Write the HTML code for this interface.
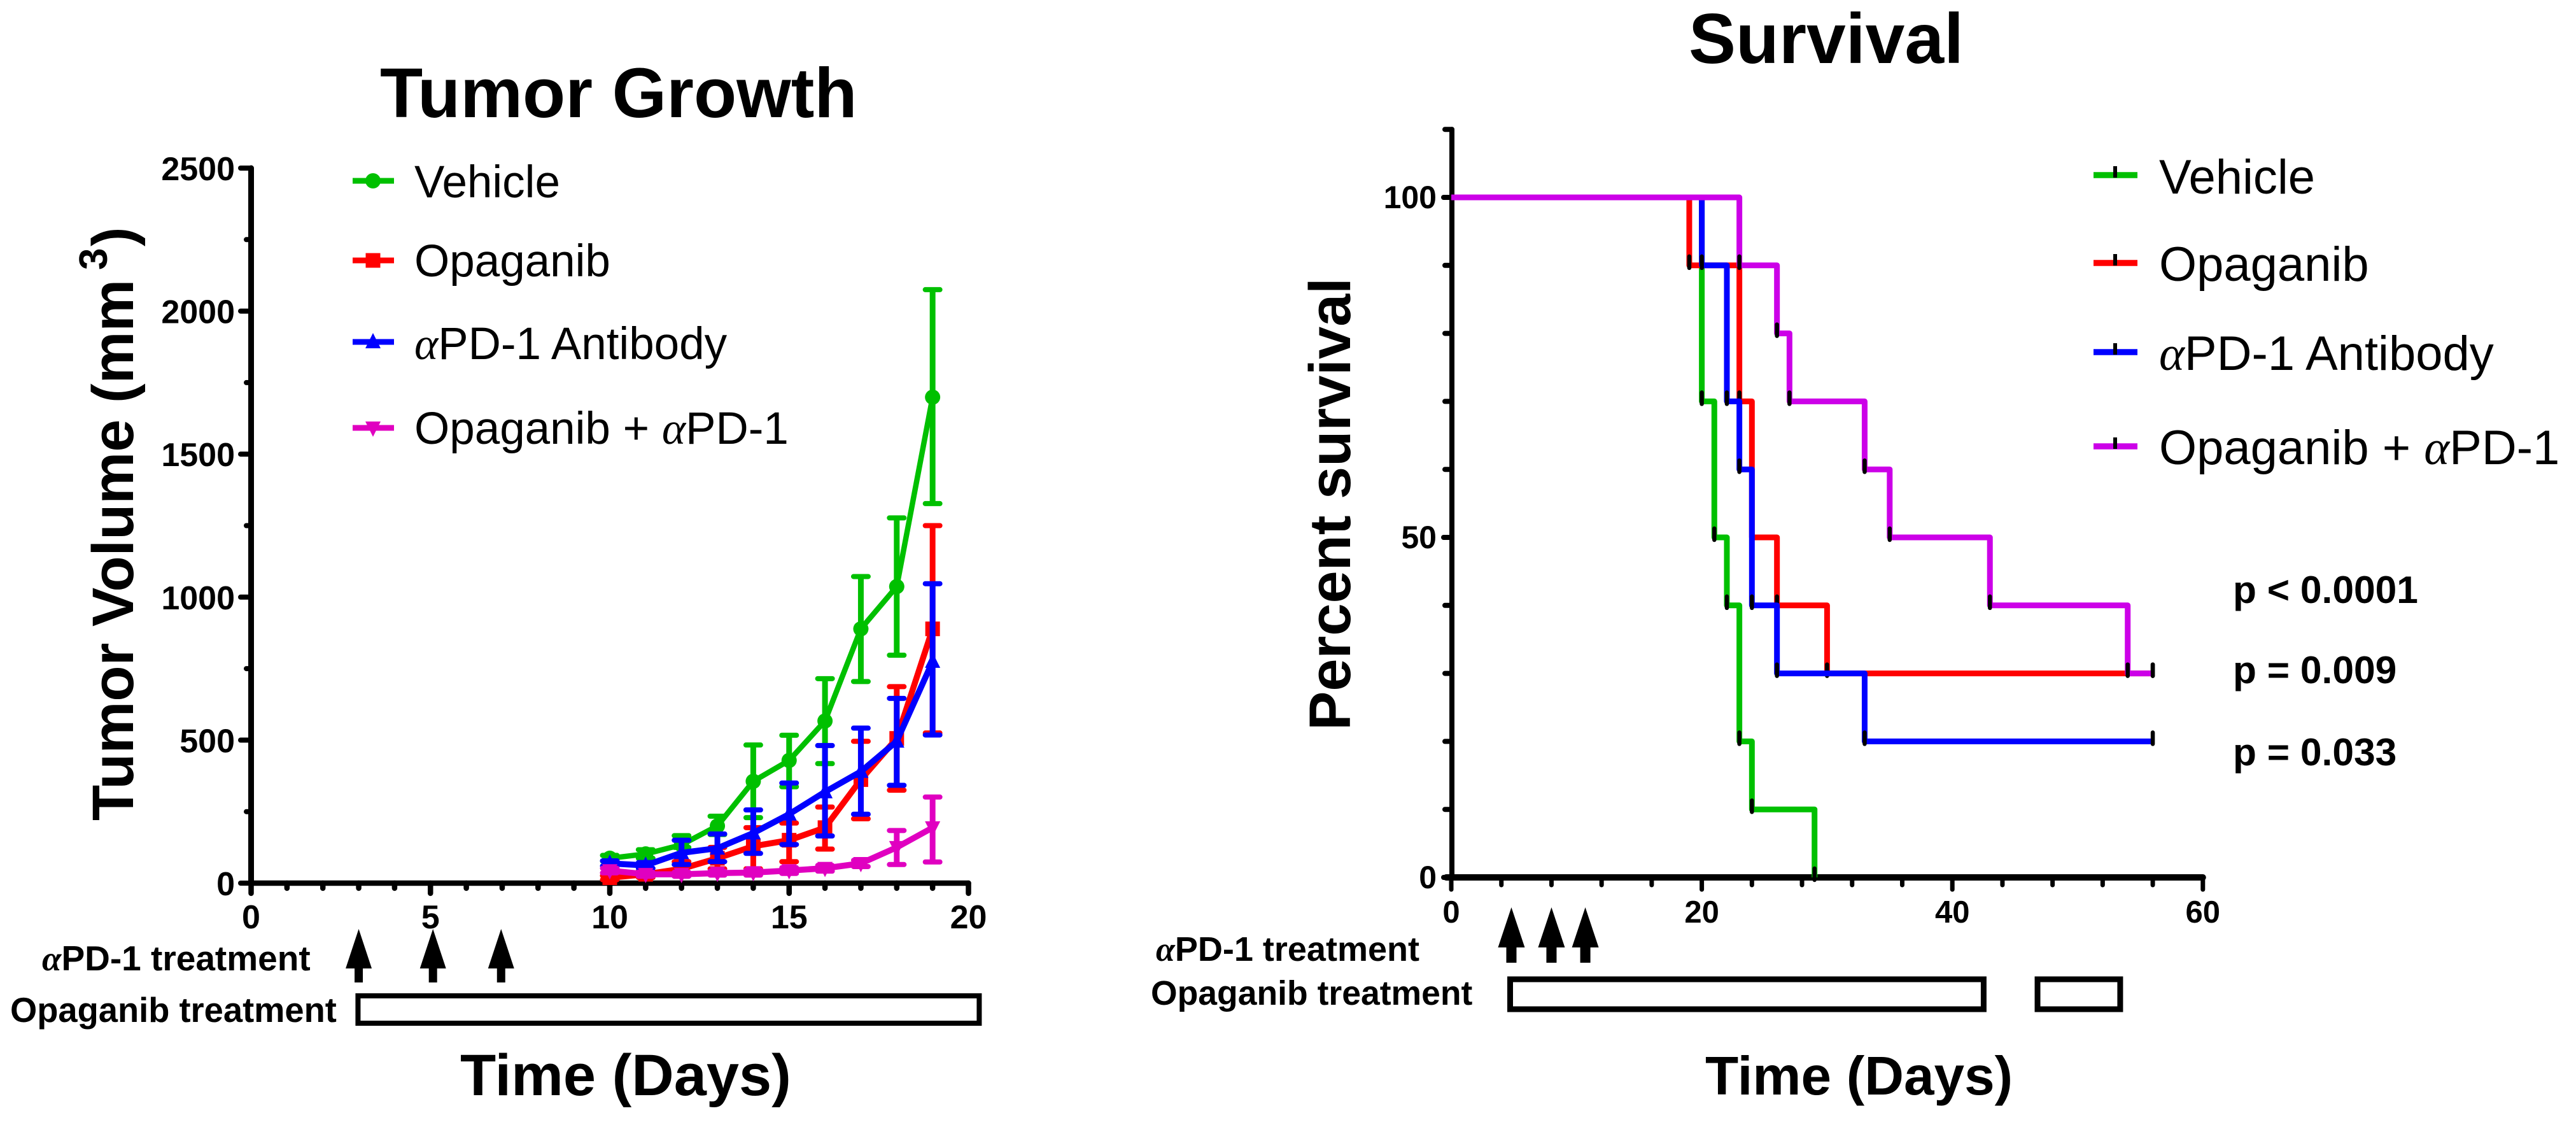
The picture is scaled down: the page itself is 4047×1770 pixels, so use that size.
<!DOCTYPE html>
<html lang="en">
<head>
<meta charset="utf-8">
<title>Tumor Growth and Survival</title>
<style>
html,body{margin:0;padding:0;background:#fff}
svg{display:block}
text{font-family:"Liberation Sans",sans-serif;fill:#000}
.b{font-weight:bold}
.a{font-family:"Liberation Serif",serif;font-style:italic}
</style>
</head>
<body>
<svg id="fig" xmlns="http://www.w3.org/2000/svg" width="4047" height="1770" viewBox="0 0 4047 1770">
  <g>
    <text class="b" x="597" y="184" font-size="110">Tumor Growth</text>
    <text class="b" font-size="92" transform="translate(209 1289) rotate(-90)">Tumor Volume (mm</text>
    <text class="b" font-size="62" transform="translate(168 424) rotate(-90)">3</text>
    <text class="b" font-size="92" transform="translate(209 387) rotate(-90)">)</text>
    <text class="b" x="723" y="1720" font-size="92">Time (Days)</text>
    <text class="b" x="66" y="1524" font-size="55"><tspan class="a">α</tspan>PD-1 treatment</text>
    <text class="b" x="16" y="1605" font-size="54.3">Opaganib treatment</text>
    <text x="651" y="310" font-size="71">Vehicle</text>
    <text x="651" y="434" font-size="71">Opaganib</text>
    <text x="651" y="564" font-size="71"><tspan class="a">α</tspan>PD-1 Antibody</text>
    <text x="651" y="697" font-size="71">Opaganib + <tspan class="a">α</tspan>PD-1</text>
  </g>
  <g>
    <text class="b" x="2653" y="99" font-size="111">Survival</text>
    <text class="b" font-size="92" transform="translate(2121 1147) rotate(-90)">Percent survival</text>
    <text class="b" x="2679" y="1719" font-size="85.5">Time (Days)</text>
    <text class="b" x="1816" y="1509" font-size="54"><tspan class="a">α</tspan>PD-1 treatment</text>
    <text class="b" x="1808" y="1578" font-size="53.5">Opaganib treatment</text>
    <text x="3392" y="304" font-size="76">Vehicle</text>
    <text x="3392" y="441" font-size="76">Opaganib</text>
    <text x="3392" y="581" font-size="76"><tspan class="a">α</tspan>PD-1 Antibody</text>
    <text x="3392" y="729" font-size="76">Opaganib + <tspan class="a">α</tspan>PD-1</text>
    <text class="b" x="3508" y="947" font-size="60.5">p &lt; 0.0001</text>
    <text class="b" x="3508" y="1073" font-size="60.5">p = 0.009</text>
    <text class="b" x="3508" y="1202" font-size="60.5">p = 0.033</text>
  </g>
</svg>
<script>
// ---------- Tumor growth data ----------
const tumorDays = [10, 11, 12, 13, 14, 15, 16, 17, 18, 19];
const vehicleMean = [87, 102, 134, 200, 356, 429, 567, 889, 1037, 1699];
const vehicleHigh = [97, 117, 166, 234, 483, 517, 715, 1072, 1277, 2075];
const vehicleLow = [77, 87, 125, 170, 229, 337, 418, 705, 797, 1327];
const opaganibMean = [19, 31, 50, 87, 129, 150, 194, 362, 506, 889];
const opaganibHigh = [26, 42, 75, 125, 194, 210, 266, 496, 687, 1250];
const opaganibLow = [12, 20, 37, 50, 50, 75, 119, 225, 325, 525];
const antibodyMean = [69, 62, 106, 122, 175, 241, 319, 390, 496, 775];
const antibodyHigh = [78, 72, 150, 172, 256, 350, 481, 542, 646, 1047];
const antibodyLow = [60, 52, 65, 75, 104, 135, 165, 241, 342, 518];
const comboMean = [44, 31, 31, 35, 37, 44, 52, 69, 125, 194];
const comboHigh = [52, 38, 38, 42, 46, 54, 62, 80, 184, 301];
const comboLow = [36, 24, 24, 28, 28, 34, 42, 58, 65, 74];
const tumorXTicks = [0, 5, 10, 15, 20];
const tumorYTicks = [0, 500, 1000, 1500, 2000, 2500];
const tumorXMinor = [1, 2, 3, 4, 6, 7, 8, 9, 11, 12, 13, 14, 16, 17, 18, 19];
const tumorYMinor = [250, 750, 1250, 1750, 2250];
const tumorArrowDays = [3, 5.07, 6.97];
const tumorBarStart = [2.98];
const tumorBarEnd = [20.3];

// ---------- Survival data ----------
const vehicleTimes = [0, 20, 21, 22, 23, 24, 29];
const vehicleSurvival = [100, 70, 50, 40, 20, 10, 0];
const opaganibTimes = [0, 19, 23, 24, 26, 30, 56];
const opaganibSurvival = [100, 90, 70, 50, 40, 30, 30];
const antibodyTimes = [0, 20, 22, 23, 24, 26, 33, 56];
const antibodySurvival = [100, 90, 70, 60, 40, 30, 20, 20];
const comboTimes = [0, 23, 26, 27, 33, 35, 43, 54, 56];
const comboSurvival = [100, 90, 80, 70, 60, 50, 40, 30, 30];
const survivalXTicks = [0, 20, 40, 60];
const survivalXMinor = [4, 8, 12, 16, 24, 28, 32, 36, 44, 48, 52, 56];
const survivalYTicks = [0, 50, 100];
const survivalYMinor = [10, 20, 30, 40, 60, 70, 80, 90, 110];
const survivalArrowDays = [4.8, 8, 10.7];
const survivalBarStart = [4.7, 46.8];
const survivalBarEnd = [42.5, 53.4];

// ---------- Axis functions ----------
const tx = d => 394.5 + 56.35 * d;
const ty = v => 1387 - 0.4492 * v;
const sx = d => 2280 + 19.68 * d;
const sy = p => 1378 - 10.68 * p;

const svg = document.getElementById('fig');
const NS = 'http://www.w3.org/2000/svg';
function mk(tag, attrs, parent) {
  const el = document.createElementNS(NS, tag);
  for (const k in attrs) el.setAttribute(k, attrs[k]);
  (parent || svg).appendChild(el);
  return el;
}
const black = '#000';
const green = '#00c000';
const red = '#ff0000';
const blue = '#0000ff';
const magenta = '#e000c0';
const purple = '#cc00e8';

// ---------- Tumor growth axes ----------
function axisLine(x1, y1, x2, y2, w, name) {
  const el = mk('line', {x1, y1, x2, y2, stroke: black, 'stroke-width': w, 'stroke-linecap': 'round'});
  
  
  return el;
}
function tickLabel(x, y, str, size, anchor, name) {
  const el = mk('text', {x, y, 'font-size': size, 'text-anchor': anchor, class: 'b'});
  el.textContent = str;
  
  
  return el;
}
tumorXMinor.forEach(d => axisLine(tx(d), 1387, tx(d), 1395, 8.5, 'tumor-x-minor-tick'));
tumorXTicks.forEach(d => {
  axisLine(tx(d), 1387, tx(d), 1403, 8.5, 'tumor-x-major-tick');
  tickLabel(tx(d), 1458, String(d), 52, 'middle', 'tumor-x-tick-label');
});
tumorYMinor.forEach(v => axisLine(394.5, ty(v), 387, ty(v), 8, 'tumor-y-minor-tick'));
tumorYTicks.forEach(v => {
  axisLine(394.5, ty(v), 378, ty(v), 8, 'tumor-y-major-tick');
  tickLabel(369, ty(v) + 19, String(v), 52, 'end', 'tumor-y-tick-label');
});
axisLine(394.5, ty(2500), 394.5, ty(0), 9, 'tumor-y-axis');
axisLine(394.5, ty(0), tx(20), ty(0), 8.5, 'tumor-x-axis');

// ---------- Tumor growth series ----------
function marker(shape, cx, cy, color, parent) {
  let el;
  if (shape === 'circle') el = mk('ellipse', {cx, cy, rx: 12, ry: 12, fill: color}, parent);
  else if (shape === 'square') el = mk('rect', {x: cx - 11.5, y: cy - 11.5, width: 23, height: 23, fill: color}, parent);
  else if (shape === 'up') el = mk('polygon', {points: `${cx},${cy - 14} ${cx + 12},${cy + 10} ${cx - 12},${cy + 10}`, fill: color}, parent);
  else el = mk('polygon', {points: `${cx},${cy + 14} ${cx + 12},${cy - 10} ${cx - 12},${cy - 10}`, fill: color}, parent);
  return el;
}
const tumorSeries = [
  {name: 'vehicle', color: green, shape: 'circle', mean: vehicleMean, high: vehicleHigh, low: vehicleLow, w: 8.5},
  {name: 'opaganib', color: red, shape: 'square', mean: opaganibMean, high: opaganibHigh, low: opaganibLow, w: 9.5},
  {name: 'antibody', color: blue, shape: 'up', mean: antibodyMean, high: antibodyHigh, low: antibodyLow, w: 9.5},
  {name: 'combination', color: magenta, shape: 'down', mean: comboMean, high: comboHigh, low: comboLow, w: 9.5}
];
tumorSeries.forEach(s => {
  const g = mk('g', {});
  
  
  tumorDays.forEach((d, i) => {
    const x = tx(d);
    const yH = ty(s.high[i]), yL = ty(s.low[i]);
    const stem = mk('line', {x1: x, x2: x, y1: yH, y2: yL, stroke: s.color, 'stroke-width': 9}, g);
    
    
    const caps = mk('path', {
      d: `M${x - 11.5} ${yH}H${x + 11.5}M${x - 11.5} ${yL}H${x + 11.5}`,
      fill: 'none', stroke: s.color, 'stroke-width': 8, 'stroke-linecap': 'round'
    }, g);
    
    
  });
  const line = mk('polyline', {
    points: tumorDays.map((d, i) => tx(d) + ',' + ty(s.mean[i])).join(' '),
    fill: 'none', stroke: s.color, 'stroke-width': s.w, 'stroke-linejoin': 'round'
  }, g);
  
  
  tumorDays.forEach((d, i) => {
    const m = marker(s.shape, tx(d), ty(s.mean[i]), s.color, g);
    
    
  });
});

// ---------- Tumor growth legend ----------
const legendRowY = [284, 409, 537, 672];
tumorSeries.forEach((s, i) => {
  const l = mk('line', {x1: 554, x2: 619, y1: legendRowY[i], y2: legendRowY[i], stroke: s.color, 'stroke-width': 9});
  
  
  const m = marker(s.shape, 586, legendRowY[i], s.color);
  
  
});

// ---------- Treatment arrows and bars ----------
function arrow(cx, tip, base, end, halfHead, shaft, name) {
  const el = mk('path', {
    d: `M${cx} ${tip}L${cx + halfHead} ${base}H${cx + shaft / 2}V${end}H${cx - shaft / 2}V${base}H${cx - halfHead}Z`,
    fill: black
  });
  
  
}
function treatBar(x1, x2, y1, y2, w, name) {
  const el = mk('rect', {x: x1, y: y1, width: x2 - x1, height: y2 - y1, fill: '#fff', stroke: black, 'stroke-width': w});
  
  
}
tumorArrowDays.forEach(d => arrow(tx(d), 1459, 1521, 1543, 20.5, 13, 'tumor-antibody-arrow'));
tumorBarStart.forEach((d, i) => treatBar(tx(d), tx(tumorBarEnd[i]), 1564, 1607, 8, 'tumor-opaganib-bar'));

// ---------- Survival axes ----------
survivalXMinor.forEach(d => axisLine(sx(d), 1378, sx(d), 1390, 7, 'survival-x-minor-tick'));
survivalXTicks.forEach(d => {
  axisLine(sx(d), 1378, sx(d), 1397, 7, 'survival-x-major-tick');
  tickLabel(sx(d), 1449, String(d), 49, 'middle', 'survival-x-tick-label');
});
survivalYMinor.forEach(p => axisLine(2281, sy(p), 2270, sy(p), 8, 'survival-y-minor-tick'));
survivalYTicks.forEach(p => {
  axisLine(2281, sy(p), 2268, sy(p), 8, 'survival-y-major-tick');
  tickLabel(2257, sy(p) + 17, String(p), 50, 'end', 'survival-y-tick-label');
});
axisLine(2281, sy(110), 2281, sy(0), 8, 'survival-y-axis');
axisLine(2272, sy(0), sx(60), sy(0), 10, 'survival-x-axis');

// ---------- Survival series ----------
const survivalSeries = [
  {name: 'vehicle', color: green, times: vehicleTimes, surv: vehicleSurvival},
  {name: 'opaganib', color: red, times: opaganibTimes, surv: opaganibSurvival},
  {name: 'antibody', color: blue, times: antibodyTimes, surv: antibodySurvival},
  {name: 'combination', color: purple, times: comboTimes, surv: comboSurvival}
];
survivalSeries.forEach(s => {
  const g = mk('g', {});
  
  
  let d = `M${sx(s.times[0])} ${sy(s.surv[0])}`;
  for (let i = 1; i < s.times.length; i++) {
    d += `H${sx(s.times[i])}V${sy(s.surv[i])}`;
  }
  const step = mk('path', {d, fill: 'none', stroke: s.color, 'stroke-width': 9, 'stroke-linejoin': 'round'}, g);
  
  
  for (let i = 1; i < s.times.length; i++) {
    const t = mk('line', {
      x1: sx(s.times[i]), x2: sx(s.times[i]),
      y1: sy(s.surv[i]) - 14, y2: sy(s.surv[i]) + 4,
      stroke: black, 'stroke-width': 6.5, 'stroke-linecap': 'round'
    }, g);
    
    
  }
});

// ---------- Survival legend ----------
const survivalLegendY = [275, 413, 553, 701];
survivalSeries.forEach((s, i) => {
  const l = mk('line', {x1: 3289, x2: 3358, y1: survivalLegendY[i], y2: survivalLegendY[i], stroke: s.color, 'stroke-width': 9.5});
  
  
  const t = mk('line', {x1: 3323, x2: 3323, y1: survivalLegendY[i] - 14, y2: survivalLegendY[i] + 4, stroke: black, 'stroke-width': 6});
  
  
});

// ---------- Survival treatment ----------
survivalArrowDays.forEach(d => arrow(sx(d), 1425, 1488, 1512, 21, 16, 'survival-antibody-arrow'));
survivalBarStart.forEach((d, i) => treatBar(sx(d), sx(survivalBarEnd[i]), 1538, 1585, 9, 'survival-opaganib-bar'));
</script>
</body>
</html>
